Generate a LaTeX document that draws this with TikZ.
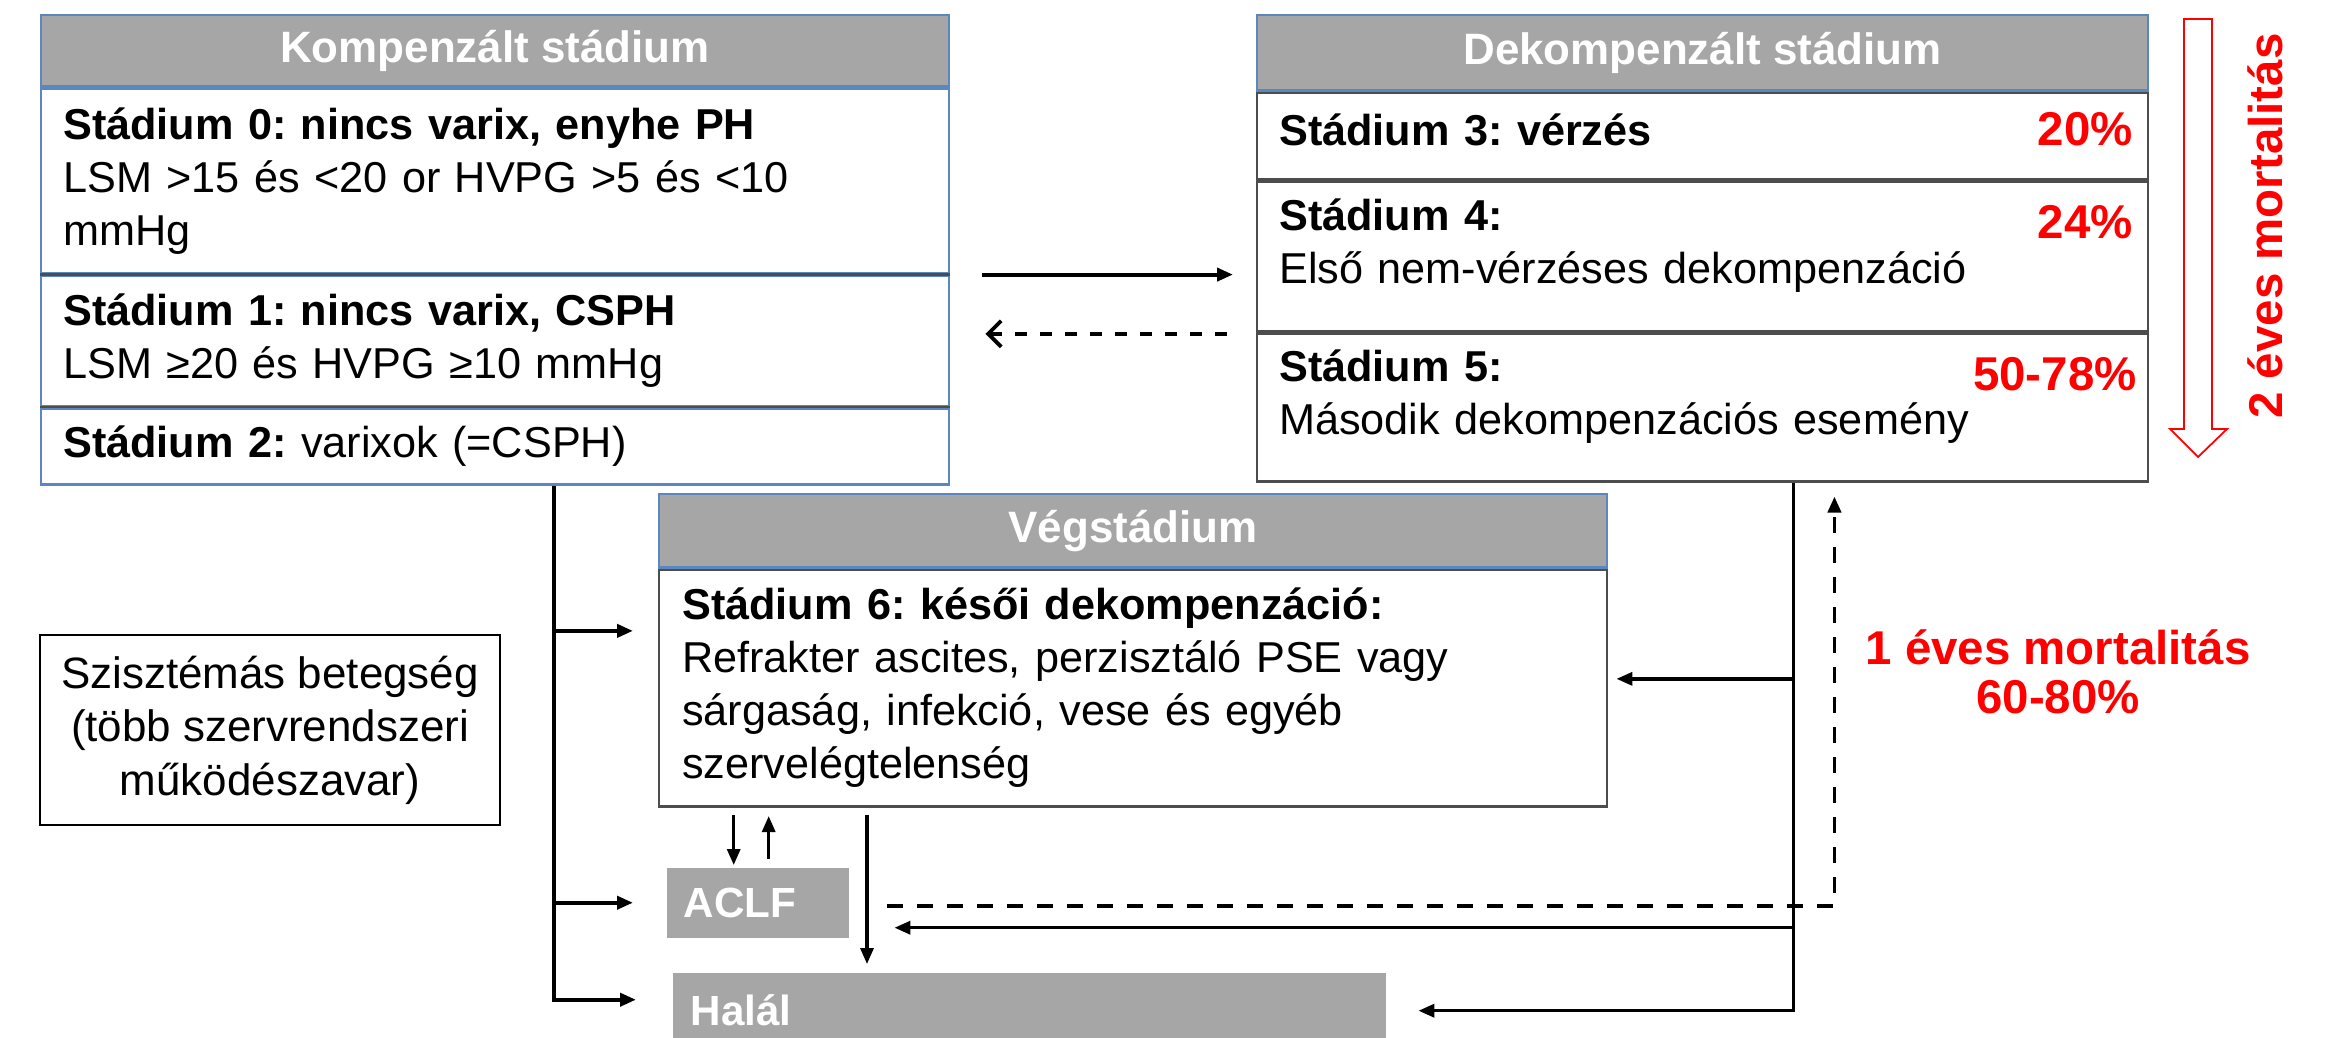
\documentclass[tikz,border=0pt]{standalone}
\usepackage{fontspec}
\setmainfont{Liberation Sans}
\frenchspacing
\usetikzlibrary{arrows.meta,positioning,calc}
\definecolor{hdr}{HTML}{A6A6A6}
\definecolor{rim}{HTML}{5B87C0}
\definecolor{rule}{HTML}{4D4D4D}
\definecolor{alarm}{HTML}{FF0000}
\tikzset{hd/.style={fill=hdr,draw=rim,line width=.6pt,text=white,font=\bfseries\fontsize{12.5}{15}\selectfont,inner sep=0pt,anchor=north west}, row/.style={draw=rule,line width=.7pt,fill=white,align=left,inner xsep=2.2mm,inner ysep=0pt,anchor=north west,font=\fontsize{12.3}{15.1}\selectfont},gbox/.style={fill=hdr,text=white,font=\bfseries\fontsize{12}{14}\selectfont,align=left,inner xsep=1.7mm,inner ysep=0pt,anchor=north west},pct/.style={text=alarm,font=\bfseries\fontsize{13.5}{15}\selectfont,anchor=east,inner sep=0pt},arr/.style={-{Triangle[length=1.6mm,width=1.3mm]},line width=1.1pt}}
\begin{document}
\begin{tikzpicture}[x=0.1mm,y=-0.1mm]
\useasboundingbox (0,0) rectangle (2336,1037);
\node[hd,minimum width=90.8mm,minimum height=7.1mm] (komp) at (40,14) {Kompenzált stádium};
\node[row,draw=rim,text width=86.4mm,minimum height=18.5mm] (k0) at (komp.south west) {\textbf{Stádium 0: nincs varix, enyhe PH}\\LSM >15 és <20 or HVPG >5 és <10\\mmHg};
\node[row,draw=rim,text width=86.4mm,minimum height=13mm] (k1) at (k0.south west) {\textbf{Stádium 1: nincs varix, CSPH}\\LSM ≥20 és HVPG ≥10 mmHg};
\node[row,draw=rim,text width=86.4mm,minimum height=7.6mm] (k2) at (k1.south west) {\textbf{Stádium 2:} varixok (=CSPH)};
\draw[rule,line width=.7pt] (k0.south west)--(k0.south east) (k1.south west)--(k1.south east);
\node[hd,minimum width=89.1mm,minimum height=7.5mm] (dek) at (1256,14) {Dekompenzált stádium};
\node[row,text width=84.7mm,minimum height=8.7mm,text depth=1.2mm] (d3) at (dek.south west) {\textbf{Stádium 3: vérzés}};
\node[row,text width=84.7mm,minimum height=14.9mm,text depth=8.3mm] (d4) at (d3.south west) {\textbf{Stádium 4:}\\Első nem-vérzéses dekompenzáció};
\node[row,text width=84.7mm,minimum height=14.8mm,text depth=8.3mm] (d5) at (d4.south west) {\textbf{Stádium 5:}\\Második dekompenzációs esemény};
\draw[rim,line width=.6pt] (dek.south west)--(dek.south east);
\node[pct] (p3) at ($(d3.north east)+(-16,38)$) {20\%};\node[pct] (p4) at ($(d4.north east)+(-16,42)$) {24\%};\node[pct] (p5) at ($(d5.north east)+(-12,42)$) {50-78\%};
\node[hd,minimum width=94.8mm,minimum height=7.3mm] (veg) at (658,493) {Végstádium};
\node[row,inner xsep=2.3mm,text width=90.2mm,minimum height=23.7mm] (v6) at (veg.south west) {\textbf{Stádium 6: késői dekompenzáció:}\\Refrakter ascites, perzisztáló PSE vagy\\sárgaság, infekció, vese és egyéb\\szervelégtelenség};
\draw[rim,line width=.6pt] (veg.south west)--(veg.south east);
\node[draw,line width=.8pt,align=center,minimum width=46mm,minimum height=19mm,font=\fontsize{12.5}{15.2}\selectfont] (sys) at (270,730) {Szisztémás betegség\\(több szervrendszeri\\működészavar)};
\node[gbox,text width=14.8mm,minimum height=7mm] (aclf) at (666,867) {ACLF};
\node[gbox,inner xsep=1.8mm,text width=67.7mm,minimum height=7.6mm] (halal) at (672,972) {Halál};
\draw[arr,shorten <=3.2mm,shorten >=2.3mm] (k0.south east) -- (k0.south east -| d4.west);
\draw[-{Straight Barb[length=1.3mm,width=2.6mm]},line width=1.1pt,dash pattern=on 1.2mm off 1.3mm,shorten <=2.9mm,shorten >=3.5mm] ($(k1.east -| d4.west)+(0,-7)$) -- ($(k1.east)+(0,-7)$);
\coordinate (tl) at ($(k2.south west)+(514,0)$);
\draw[arr,shorten >=3.6mm] (tl) |- ($(halal.west)+(0,-11)$);
\draw[arr,shorten >=2.5mm] ($(tl|-v6.west)+(0,-57)$) -- ($(v6.west)+(0,-57)$);
\draw[arr,shorten >=3.3mm] (tl|-aclf.west) -- (aclf.west);
\draw[arr,line width=.9pt] ($(aclf.north)+(-24,-52)$) -- ($(aclf.north)+(-24,-2)$);
\draw[arr,line width=.9pt] ($(aclf.north)+(11,-8)$) -- ($(aclf.north)+(11,-51)$);
\draw[arr,line width=.9pt] ($(halal.north west)+(195,-157)$) -- ($(halal.north west)+(195,-8)$);
\coordinate (tr) at ($(d5.south east)+(-356,0)$);
\draw[arr,line width=1pt,shorten >=3.2mm] (tr) |- (halal.east);
\draw[arr,line width=1pt,shorten >=.8mm] ($(tr|-v6.east)+(0,-9)$) -- ($(v6.east)+(0,-9)$);
\draw[arr,line width=1pt,shorten >=4.5mm] ($(tr|-aclf.east)+(0,25)$) -- ($(aclf.east)+(0,25)$);
\draw[arr,dash pattern=on 1.6mm off 1.4mm] ($(aclf.east)+(38,3)$) -| ($(d5.south east)+(-315,14)$);
\node[pct,anchor=center,align=center,font=\bfseries\fontsize{13.5}{13.9}\selectfont] (one) at (2058,672) {1 éves mortalitás\\60-80\%};
\node[pct,anchor=center,rotate=90] (two) at (2265,226) {2 éves mortalitás};
\draw[alarm,line width=.5pt,fill=white] (2184,19) -- (2212,19) -- (2212,429) -- (2227,429) -- (2198,457) -- (2170,429) -- (2184,429) -- cycle;
\end{tikzpicture}
\end{document}
